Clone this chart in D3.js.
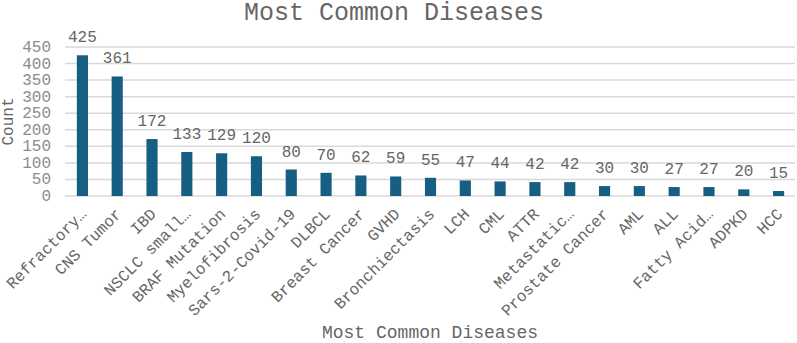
<!DOCTYPE html>
<meta charset="utf-8">
<script src="https://d3js.org/d3.v7.min.js"></script>
<style>
  body { margin: 0; background: #fff; }
  text { font-family: "Liberation Mono", "Courier New", monospace; }
</style>
<body>
<svg id="vis" width="797" height="343"></svg>
<script>
// data
var diseases = ["Refractory…", "CNS Tumor", "IBD", "NSCLC small…", "BRAF Mutation",
  "Myelofibrosis", "Sars-2-Covid-19", "DLBCL", "Breast Cancer", "GVHD",
  "Bronchiectasis", "LCH", "CML", "ATTR", "Metastatic…", "Prostate Cancer",
  "AML", "ALL", "Fatty Acid…", "ADPKD", "HCC"];
var counts = [425, 361, 172, 133, 129, 120, 80, 70, 62, 59, 55, 47, 44, 42, 42, 30, 30, 27, 27, 20, 15];
var yTicks = [0, 50, 100, 150, 200, 250, 300, 350, 400, 450];

var data = diseases.map(function(d, i) { return {name: d, count: counts[i]}; });

var svg = d3.select("#vis");
var plotLeft = 65, plotRight = 796, plotTop = 47, plotBottom = 196;

var x = d3.scaleBand()
  .domain(diseases)
  .range([plotLeft, plotRight])
  .paddingInner(0.68)
  .paddingOuter(0.34);

var y = d3.scaleLinear()
  .domain([0, 450])
  .range([plotBottom, plotTop]);

// gridlines
svg.append("g")
  .selectAll("line")
  .data(yTicks)
  .enter().append("line")
    .attr("x1", plotLeft)
    .attr("x2", plotRight - 1)
    .attr("y1", function(d) { return y(d); })
    .attr("y2", function(d) { return y(d); })
    .attr("stroke", "#d9d9d9")
    .attr("stroke-width", 1.5);

// y tick labels
svg.append("g")
  .selectAll("text")
  .data(yTicks)
  .enter().append("text")
    .attr("x", 51)
    .attr("y", function(d) { return y(d) + 5; })
    .attr("text-anchor", "end")
    .attr("font-size", "16px")
    .attr("fill", "#8c8c8c")
    .text(function(d) { return d; });

// bars
svg.append("g")
  .selectAll("rect")
  .data(data)
  .enter().append("rect")
    .attr("x", function(d) { return x(d.name); })
    .attr("y", function(d) { return y(d.count); })
    .attr("width", x.bandwidth())
    .attr("height", function(d) { return plotBottom - y(d.count); })
    .attr("fill", "#175e83");

// value labels
svg.append("g")
  .selectAll("text")
  .data(data)
  .enter().append("text")
    .attr("x", function(d) { return x(d.name) + x.bandwidth() / 2; })
    .attr("y", function(d) { return y(d.count) - 13; })
    .attr("text-anchor", "middle")
    .attr("font-size", "16px")
    .attr("fill", "#666")
    .text(function(d) { return d.count; });

// category labels
svg.append("g")
  .selectAll("text")
  .data(data)
  .enter().append("text")
    .attr("transform", function(d) {
      return "translate(" + (x(d.name) + x.bandwidth() / 2 + 5) + "," + 215 + ") rotate(-45)";
    })
    .attr("text-anchor", "end")
    .attr("font-size", "16px")
    .attr("fill", "#666")
    .text(function(d) { return d.name; });

// titles
svg.append("text")
  .attr("x", 394)
  .attr("y", 20)
  .attr("text-anchor", "middle")
  .attr("font-size", "25px")
  .attr("fill", "#666")
  .text("Most Common Diseases");

svg.append("text")
  .attr("x", 430)
  .attr("y", 338)
  .attr("text-anchor", "middle")
  .attr("font-size", "18px")
  .attr("fill", "#666")
  .text("Most Common Diseases");

svg.append("text")
  .attr("transform", "translate(13," + ((plotTop + plotBottom) / 2) + ") rotate(-90)")
  .attr("text-anchor", "middle")
  .attr("font-size", "16px")
  .attr("fill", "#666")
  .text("Count");
</script>
</body>
